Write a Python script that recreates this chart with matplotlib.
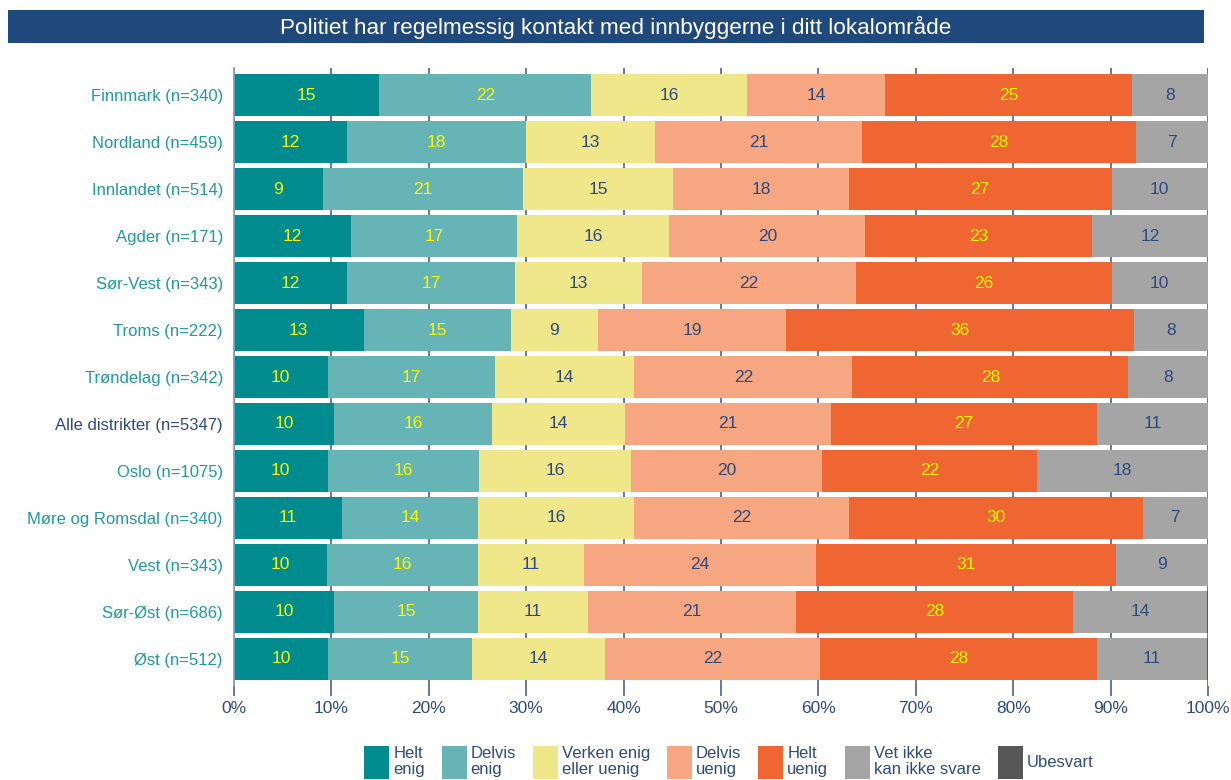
import matplotlib
matplotlib.use("Agg")
import matplotlib.pyplot as plt
from matplotlib.patches import Rectangle, Patch
import numpy as np

plt.rcParams['font.family'] = ['Liberation Sans', 'DejaVu Sans']

title = "Politiet har regelmessig kontakt med innbyggerne i ditt lokalområde"

categories = [
    "Finnmark (n=340)", "Nordland (n=459)", "Innlandet (n=514)", "Agder (n=171)",
    "Sør-Vest (n=343)", "Troms (n=222)", "Trøndelag (n=342)", "Alle distrikter (n=5347)",
    "Oslo (n=1075)", "Møre og Romsdal (n=340)", "Vest (n=343)", "Sør-Øst (n=686)",
    "Øst (n=512)",
]

series_names = ["Helt\nenig", "Delvis\nenig", "Verken enig\neller uenig", "Delvis\nuenig",
                "Helt\nuenig", "Vet ikke\nkan ikke svare", "Ubesvart"]

helt_enig     = [14.9, 11.6, 9.1, 12.0, 11.6, 13.3, 9.6, 10.3, 9.6, 11.1, 9.5, 10.3, 9.7]
delvis_enig   = [21.8, 18.4, 20.6, 17.1, 17.3, 15.1, 17.2, 16.2, 15.6, 14.0, 15.6, 14.8, 14.7]
verken        = [16.0, 13.2, 15.4, 15.6, 13.0, 9.0, 14.3, 13.6, 15.6, 16.0, 10.8, 11.2, 13.7]
delvis_uenig  = [14.1, 21.3, 18.0, 20.1, 22.0, 19.3, 22.4, 21.2, 19.6, 22.0, 23.9, 21.4, 22.1]
helt_uenig    = [25.4, 28.1, 27.0, 23.3, 26.2, 35.7, 28.3, 27.3, 22.0, 30.2, 30.8, 28.4, 28.4]
vet_ikke      = [7.8, 7.4, 9.9, 11.9, 9.9, 7.6, 8.2, 11.4, 17.6, 6.7, 9.4, 13.8, 11.3]
ubesvart      = [0.1, 0.1, 0.1, 0.1, 0.1, 0.1, 0.1, 0.1, 0.1, 0.1, 0.1, 0.1, 0.1]

series = [helt_enig, delvis_enig, verken, delvis_uenig, helt_uenig, vet_ikke, ubesvart]
colors = ["#008c8f", "#67b4b7", "#f0e68a", "#f6a680", "#ef6632", "#a5a5a5", "#575757"]
label_colors = ["#f8f800", "#f8f800", "#2e4a7d", "#2e4a7d", "#f8f800", "#2e4a7d", None]

W, H = 1231, 780
fig = plt.figure(figsize=(W / 100, H / 100), dpi=100)

# title banner
fig.patches.append(Rectangle((8 / W, 1 - 43 / H), (1204 - 8) / W, 33 / H,
                             transform=fig.transFigure, facecolor="#1f497d",
                             edgecolor="none", zorder=0))
fig.text(0.5, 1 - 27 / H, title, ha="center", va="center", color="white",
         fontsize=16.2)

ax = fig.add_axes([234 / W, 1 - 686 / H, (1208 - 234) / W, (686 - 68) / H])

y = np.arange(len(categories))
left = np.zeros(len(categories))
for vals, col, lcol in zip(series, colors, label_colors):
    vals = np.array(vals)
    ax.barh(y, vals, left=left, height=0.9, color=col, edgecolor="none", zorder=2)
    if lcol is not None:
        for yi, (l, v) in enumerate(zip(left, vals)):
            ax.text(l + v / 2, yi, f"{v:.0f}", ha="center", va="center",
                    color=lcol, fontsize=12.5, zorder=3)
    left += vals

ax.set_xlim(0, 100)
ax.set_ylim(len(categories) - 1 + 0.575, -0.575)
ax.set_yticks(y)
ax.set_yticklabels(categories, fontsize=12)
for lbl in ax.get_yticklabels():
    if lbl.get_text().startswith("Alle"):
        lbl.set_color("#2e4a7d")
    else:
        lbl.set_color("#1e9a9c")
ax.tick_params(axis="y", length=0, pad=8)

xt = np.arange(0, 101, 10)
ax.set_xticks(xt)
ax.set_xticklabels([f"{v}%" for v in xt], fontsize=12.5, color="#2e4a7d")
ax.tick_params(axis="x", length=7, width=1.2, color="#4a6290", pad=4, direction="out")
ax.xaxis.grid(True, color="#4a6290", linewidth=1.2, zorder=0)
ax.set_axisbelow(True)
for s in ["top", "right", "bottom"]:
    ax.spines[s].set_visible(False)
ax.spines["left"].set_color("#8a9ab8")
ax.spines["left"].set_linewidth(1.2)

handles = [Patch(facecolor=c, edgecolor="none") for c in colors]
leg = fig.legend(handles, series_names, loc="upper center", ncol=7,
                 bbox_to_anchor=(0.592, 1 - 734 / H), frameon=False, fontsize=12,
                 handlelength=1.5, handleheight=2.7, handletextpad=0.25,
                 columnspacing=1.0, labelspacing=0.2, borderpad=0.2)
for t in leg.get_texts():
    t.set_color("#2e4a7d")
    t.set_linespacing(1.05)

fig.savefig("out.png", dpi=100)
